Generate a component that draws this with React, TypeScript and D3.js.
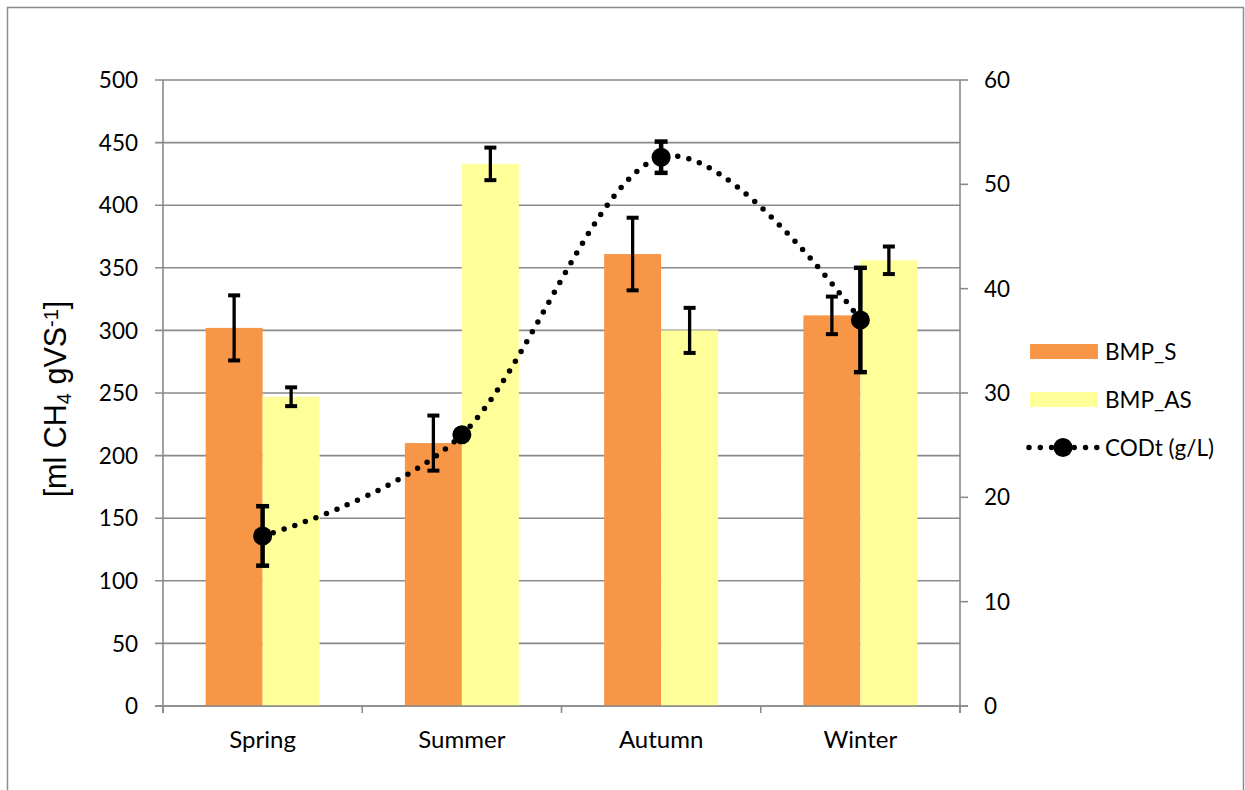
import React from "react";
import * as d3 from "d3";

const categories = ["Spring", "Summer", "Autumn", "Winter"];
const bmpS = [302, 210, 361, 312];
const bmpSErr = [26, 22, 29, 15];
const bmpAS = [247, 433, 300, 356];
const bmpASErr = [7.5, 13, 18, 11];
const codt = [16.3, 26.0, 52.6, 37.0];
const codtErr = [2.85, 0.4, 1.5, 5.0];
const leftTicks = [0, 50, 100, 150, 200, 250, 300, 350, 400, 450, 500];
const rightTicks = [0, 10, 20, 30, 40, 50, 60];
const seriesNames = ["BMP_S", "BMP_AS", "CODt (g/L)"];

const W = 1245, H = 790;
const L = 163, R = 960, T = 80, B = 706;
const ORANGE = "#F79646", YELLOW = "#FFFF99", GRID = "#8a8a8a";
const TICKFONT = "Lato, 'Open Sans', sans-serif";

export default function App() {
  const x = d3.scaleBand<string>().domain(categories).range([L, R]).padding(0);
  const bw = x.bandwidth();
  const gw = bw * 0.572;
  const xs = d3.scaleBand<string>().domain(["S", "AS"]).range([(bw - gw) / 2, (bw + gw) / 2]).padding(0);
  const yL = d3.scaleLinear().domain([0, 500]).range([B, T]);
  const yR = d3.scaleLinear().domain([0, 60]).range([B, T]);
  const cx = (c: string) => (x(c) as number) + bw / 2;

  const line = d3
    .line<number>()
    .x((_, i) => cx(categories[i]))
    .y((d) => yR(d))
    .curve(d3.curveCardinal.tension(0));

  const errBar = (xc: number, y1: number, y2: number, cap: number, sw: number, capSw: number, key: string) => (
    <g key={key}>
      <line x1={xc} x2={xc} y1={y1} y2={y2} stroke="#000" strokeWidth={sw} />
      <line x1={xc - cap / 2} x2={xc + cap / 2} y1={y1} y2={y1} stroke="#000" strokeWidth={capSw} />
      <line x1={xc - cap / 2} x2={xc + cap / 2} y1={y2} y2={y2} stroke="#000" strokeWidth={capSw} />
    </g>
  );

  const bands = [...categories.map((c) => x(c) as number), R];

  return (
    <svg width={W} height={H} style={{ position: "absolute", left: 0, top: 0, background: "#fff" }}>
      <rect x={7.5} y={7.5} width={1236} height={820} fill="#fff" stroke="#8c8c8c" strokeWidth={1.5} />
      {/* gridlines */}
      {leftTicks.map((t) => (
        <line key={"g" + t} x1={L - 8} x2={R} y1={yL(t)} y2={yL(t)} stroke={GRID} strokeWidth={1.6} />
      ))}
      {/* bars */}
      {categories.map((c, i) => (
        <g key={"b" + c}>
          <rect x={(x(c) as number) + (xs("S") as number)} y={yL(bmpS[i])} width={xs.bandwidth()} height={B - yL(bmpS[i])} fill={ORANGE} />
          <rect x={(x(c) as number) + (xs("AS") as number)} y={yL(bmpAS[i])} width={xs.bandwidth()} height={B - yL(bmpAS[i])} fill={YELLOW} />
        </g>
      ))}
      {/* bar error bars */}
      {categories.map((c, i) => {
        const xS = (x(c) as number) + (xs("S") as number) + xs.bandwidth() / 2;
        const xA = (x(c) as number) + (xs("AS") as number) + xs.bandwidth() / 2;
        return (
          <g key={"e" + c}>
            {errBar(xS, yL(bmpS[i] + bmpSErr[i]), yL(bmpS[i] - bmpSErr[i]), 12, 3.3, 4, "es")}
            {errBar(xA, yL(bmpAS[i] + bmpASErr[i]), yL(bmpAS[i] - bmpASErr[i]), 12, 3.3, 4, "ea")}
          </g>
        );
      })}
      {/* axes */}
      <line x1={L} x2={L} y1={T} y2={B + 7} stroke={GRID} strokeWidth={1.6} />
      <line x1={R} x2={R} y1={T} y2={B + 7} stroke={GRID} strokeWidth={1.6} />
      <line x1={L - 8} x2={R + 8} y1={B} y2={B} stroke={GRID} strokeWidth={1.6} />
      {bands.map((b, i) => (
        <line key={"xt" + i} x1={b} x2={b} y1={B} y2={B + 7} stroke={GRID} strokeWidth={1.6} />
      ))}
      {rightTicks.map((t) => (
        <line key={"rt" + t} x1={R} x2={R + 8} y1={yR(t)} y2={yR(t)} stroke={GRID} strokeWidth={1.6} />
      ))}
      {/* CODt line */}
      <path d={line(codt) as string} fill="none" stroke="#000" strokeWidth={5.5} strokeDasharray="0 11.3" strokeLinecap="round" />
      {categories.map((c, i) =>
        errBar(cx(c), yR(codt[i] + codtErr[i]), yR(codt[i] - codtErr[i]), 13, 4.5, 4.5, "ce" + c)
      )}
      {categories.map((c, i) => (
        <circle key={"m" + c} cx={cx(c)} cy={yR(codt[i])} r={9.5} fill="#000" />
      ))}
      {/* tick labels */}
      {leftTicks.map((t) => (
        <text key={"lt" + t} x={138} y={yL(t)} dy="0.36em" textAnchor="end" fontFamily={TICKFONT} fontSize={22.5} fill="#000">
          {t}
        </text>
      ))}
      {rightTicks.map((t) => (
        <text key={"rl" + t} x={984} y={yR(t)} dy="0.36em" textAnchor="start" fontFamily={TICKFONT} fontSize={22.5} fill="#000">
          {t}
        </text>
      ))}
      {categories.map((c) => (
        <text key={"xl" + c} x={cx(c)} y={748} textAnchor="middle" fontFamily={TICKFONT} fontSize={24} fill="#000">
          {c}
        </text>
      ))}
      {/* y title */}
      <text transform="translate(66,399) rotate(-90)" textAnchor="middle" fontFamily="'Liberation Sans', Arial, sans-serif" fontSize={30.5} fill="#000">
        [ml CH<tspan baselineShift="-25%" fontSize={20}>4</tspan> gVS<tspan baselineShift="40%" fontSize={20}>-1</tspan>]
      </text>
      {/* legend */}
      <rect x={1030} y={344} width={68} height={15} fill={ORANGE} />
      <text x={1105} y={351.5} dy="0.36em" fontFamily={TICKFONT} fontSize={22.5}>{seriesNames[0]}</text>
      <rect x={1030} y={392} width={68} height={15} fill={YELLOW} />
      <text x={1105} y={399.5} dy="0.36em" fontFamily={TICKFONT} fontSize={22.5}>{seriesNames[1]}</text>
      <line x1={1029} x2={1097} y1={447.5} y2={447.5} stroke="#000" strokeWidth={5.5} strokeDasharray="0 11.3" strokeLinecap="round" />
      <circle cx={1063} cy={447.5} r={9.5} fill="#000" />
      <text x={1105} y={447.5} dy="0.36em" fontFamily={TICKFONT} fontSize={22.5}>{seriesNames[2]}</text>
    </svg>
  );
}
